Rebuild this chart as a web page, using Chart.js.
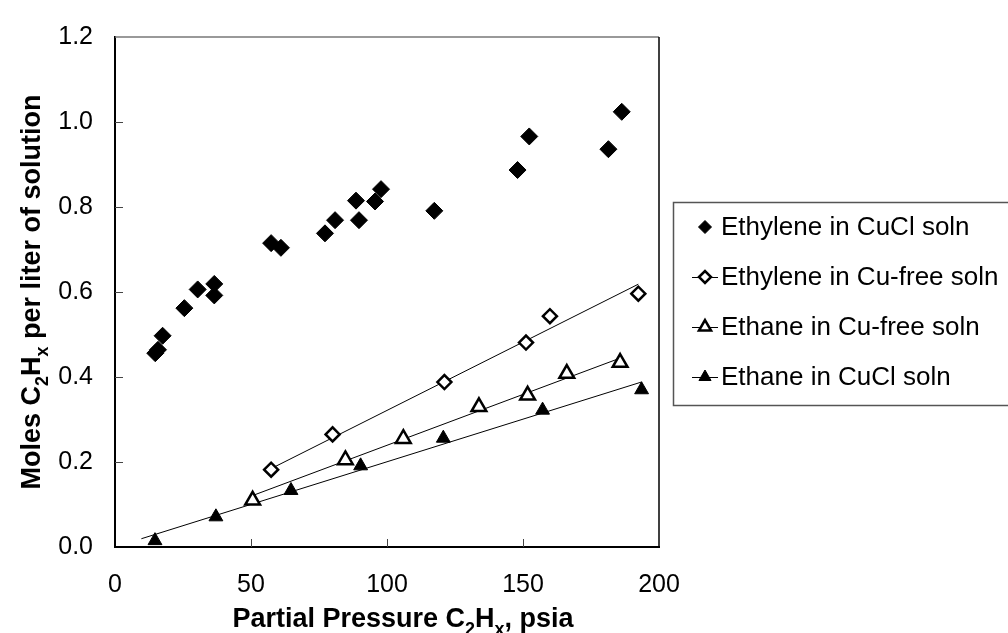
<!DOCTYPE html>
<html>
<head>
<meta charset="utf-8">
<title>Solubility of C2Hx</title>
<script src="https://cdn.jsdelivr.net/npm/chart.js@4.4.1/dist/chart.umd.min.js"></script>
<style>
  body { margin: 0; background: #fff; }
  #wrap { width: 1008px; height: 633px; }
</style>
</head>
<body>
<div id="wrap"><canvas id="solubility" width="1008" height="633"></canvas></div>
<script>
// measured points: partial pressure (psia) vs moles per liter
const seriesNames = ["Ethylene in CuCl soln", "Ethylene in Cu-free soln", "Ethane in Cu-free soln", "Ethane in CuCl soln"];

const ethyleneCuClP = [14.8, 15.8, 17.5, 25.5, 30.4, 36.5, 36.5, 57.4, 61.0, 77.2, 80.9, 88.6, 89.7, 95.6, 97.8, 117.4, 148.0, 152.3, 181.4, 186.3];
const ethyleneCuClM = [0.456, 0.464, 0.497, 0.562, 0.606, 0.619, 0.592, 0.715, 0.704, 0.738, 0.769, 0.815, 0.769, 0.813, 0.842, 0.791, 0.887, 0.966, 0.936, 1.024];

const ethyleneFreeP = [57.4, 80.0, 121.1, 151.1, 159.9, 192.4];
const ethyleneFreeM = [0.182, 0.265, 0.388, 0.481, 0.543, 0.596];

const ethaneFreeP = [50.6, 84.7, 106.0, 133.8, 151.7, 166.1, 185.7];
const ethaneFreeM = [0.110, 0.205, 0.255, 0.330, 0.357, 0.408, 0.434];

const ethaneCuClP = [14.7, 37.1, 64.7, 90.3, 120.7, 157.2, 193.6];
const ethaneCuClM = [0.015, 0.071, 0.133, 0.191, 0.256, 0.322, 0.370];

const xTicks = [0, 50, 100, 150, 200];
const yTicks = [0.0, 0.2, 0.4, 0.6, 0.8, 1.0, 1.2];

// how far the fitted lines run back before the first point
const trendBack = [0, 0, 5];

const FONT = "'Liberation Sans', Arial, sans-serif";

function pts(xs, ys) {
  return xs.map((x, i) => ({x: x, y: ys[i]}));
}

// linear fit forced through the origin (y = k*x)
function originFit(xs, ys, back) {
  let sxy = 0, sxx = 0;
  xs.forEach((x, i) => { sxy += x * ys[i]; sxx += x * x; });
  const k = sxy / sxx;
  const x0 = Math.min(...xs) - back;
  const x1 = Math.max(...xs);
  return [{x: x0, y: k * x0}, {x: x1, y: k * x1}];
}

const markerStyles = [
  {pointStyle: 'rectRot', radius: 8.5, fill: '#000', lw: 1, legendR: 6.5},
  {pointStyle: 'rectRot', radius: 7, fill: '#fff', lw: 2.5, legendR: 6},
  {pointStyle: 'triangle', radius: 8.5, fill: '#fff', lw: 2.5, legendR: 7},
  {pointStyle: 'triangle', radius: 8, fill: '#000', lw: 1, legendR: 7}
];

function markerSet(label, data, st) {
  return {
    label: label,
    data: data,
    pointStyle: st.pointStyle,
    pointRadius: st.radius,
    pointHoverRadius: st.radius,
    pointBackgroundColor: st.fill,
    pointBorderColor: '#000',
    pointBorderWidth: st.lw,
    showLine: false,
    clip: false,
    order: 1
  };
}

function trendSet(data) {
  return {
    label: '',
    data: data,
    showLine: true,
    borderColor: '#000',
    borderWidth: 1,
    pointRadius: 0,
    pointHoverRadius: 0,
    clip: false,
    order: 2
  };
}

// draws text runs with subscripts; rotated when angle given
function drawRich(ctx, runs, x, y, size, angle) {
  const subSize = Math.round(size * 0.65);
  const widthOf = r => {
    ctx.font = 'bold ' + (r.sub ? subSize : size) + 'px ' + FONT;
    return ctx.measureText(r.t).width;
  };
  const total = runs.reduce((s, r) => s + widthOf(r), 0);
  ctx.save();
  ctx.translate(x, y);
  if (angle) ctx.rotate(angle);
  ctx.fillStyle = '#000';
  ctx.textBaseline = 'alphabetic';
  ctx.textAlign = 'left';
  let cx = -total / 2;
  runs.forEach(r => {
    const w = widthOf(r);
    ctx.fillText(r.t, cx, r.sub ? size * 0.28 : 0);
    cx += w;
  });
  ctx.restore();
}

function drawMarker(ctx, st, r, x, y) {
  ctx.save();
  ctx.fillStyle = st.fill;
  ctx.strokeStyle = '#000';
  ctx.lineWidth = st.lw;
  if (Chart.helpers && Chart.helpers.drawPoint) {
    Chart.helpers.drawPoint(ctx, {pointStyle: st.pointStyle, radius: r, rotation: 0, borderWidth: st.lw}, x, y);
  } else {
    ctx.beginPath();
    if (st.pointStyle === 'rectRot') {
      ctx.moveTo(x, y - r); ctx.lineTo(x + r, y); ctx.lineTo(x, y + r); ctx.lineTo(x - r, y);
    } else {
      ctx.moveTo(x, y - r); ctx.lineTo(x + r * 0.866, y + r / 2); ctx.lineTo(x - r * 0.866, y + r / 2);
    }
    ctx.closePath();
    ctx.fill();
    ctx.stroke();
  }
  ctx.restore();
}

const decorations = {
  id: 'decorations',
  afterDraw(chart) {
    const ctx = chart.ctx;
    const a = chart.chartArea;
    const xs = chart.scales.x, ys = chart.scales.y;

    // frame: grey top, black right
    ctx.save();
    ctx.lineWidth = 1.5;
    ctx.strokeStyle = '#777';
    ctx.beginPath(); ctx.moveTo(a.left, a.top); ctx.lineTo(a.right, a.top); ctx.stroke();
    ctx.strokeStyle = '#000';
    ctx.beginPath(); ctx.moveTo(a.right, a.top); ctx.lineTo(a.right, a.bottom + 1); ctx.stroke();

    // inward tick marks
    ctx.lineWidth = 1;
    ctx.strokeStyle = '#444';
    ctx.beginPath();
    yTicks.slice(1, -1).forEach(v => {
      const py = Math.round(ys.getPixelForValue(v)) + 0.5;
      ctx.moveTo(a.left, py); ctx.lineTo(a.left + 8, py);
    });
    xTicks.slice(1, -1).forEach(v => {
      const px = Math.round(xs.getPixelForValue(v)) + 0.5;
      ctx.moveTo(px, a.bottom); ctx.lineTo(px, a.bottom - 8);
    });
    ctx.stroke();
    ctx.restore();

    // axis titles
    drawRich(ctx, [{t: 'Partial Pressure C'}, {t: '2', sub: true}, {t: 'H'}, {t: 'x', sub: true}, {t: ', psia'}],
      403, 627, 27, 0);
    drawRich(ctx, [{t: 'Moles C'}, {t: '2', sub: true}, {t: 'H'}, {t: 'x', sub: true}, {t: ' per liter of solution'}],
      40, 292, 27, -Math.PI / 2);

    // legend box
    const lx = 673, ly = 202, lh = 203, rowY = 227, rowStep = 50;
    ctx.save();
    ctx.fillStyle = '#fff';
    ctx.fillRect(lx, ly, 340, lh);
    ctx.strokeStyle = '#555';
    ctx.lineWidth = 1.5;
    ctx.strokeRect(lx + 0.5, ly + 0.5, 340, lh);
    ctx.font = '26px ' + FONT;
    ctx.textBaseline = 'middle';
    ctx.textAlign = 'left';
    seriesNames.forEach((name, i) => {
      const y = rowY + i * rowStep;
      if (i > 0) {
        ctx.strokeStyle = '#000';
        ctx.lineWidth = 1;
        ctx.beginPath(); ctx.moveTo(692, y + 0.5); ctx.lineTo(718, y + 0.5); ctx.stroke();
      }
      drawMarker(ctx, markerStyles[i], markerStyles[i].legendR, 705, y);
      ctx.fillStyle = '#000';
      ctx.fillText(name, 721, y + 1);
    });
    ctx.restore();
  }
};

const chart = new Chart(document.getElementById('solubility'), {
  type: 'scatter',
  data: {
    datasets: [
      markerSet(seriesNames[0], pts(ethyleneCuClP, ethyleneCuClM), markerStyles[0]),
      markerSet(seriesNames[1], pts(ethyleneFreeP, ethyleneFreeM), markerStyles[1]),
      markerSet(seriesNames[2], pts(ethaneFreeP, ethaneFreeM), markerStyles[2]),
      markerSet(seriesNames[3], pts(ethaneCuClP, ethaneCuClM), markerStyles[3]),
      trendSet(originFit(ethyleneFreeP, ethyleneFreeM, trendBack[0])),
      trendSet(originFit(ethaneFreeP, ethaneFreeM, trendBack[1])),
      trendSet(originFit(ethaneCuClP, ethaneCuClM, trendBack[2]))
    ]
  },
  options: {
    responsive: false,
    animation: false,
    devicePixelRatio: 1,
    layout: {padding: {left: 0, right: 349, top: 25, bottom: 0}},
    plugins: {
      legend: {display: false},
      tooltip: {enabled: false},
      title: {display: false}
    },
    scales: {
      x: {
        type: 'linear',
        min: 0,
        max: 200,
        afterBuildTicks: s => { s.ticks = xTicks.map(v => ({value: v})); },
        afterFit: s => { s.height = 86; },
        ticks: {color: '#000', font: {family: FONT, size: 25}, padding: 23, maxRotation: 0},
        grid: {display: false, drawTicks: false},
        border: {display: true, color: '#000', width: 2}
      },
      y: {
        type: 'linear',
        min: 0,
        max: 1.2,
        afterBuildTicks: s => { s.ticks = yTicks.map(v => ({value: v})); },
        afterFit: s => { s.width = 115; },
        ticks: {color: '#000', font: {family: FONT, size: 25}, padding: 22, callback: v => v.toFixed(1)},
        grid: {display: false, drawTicks: false},
        border: {display: true, color: '#000', width: 2}
      }
    }
  },
  plugins: [decorations]
});
</script>
</body>
</html>
